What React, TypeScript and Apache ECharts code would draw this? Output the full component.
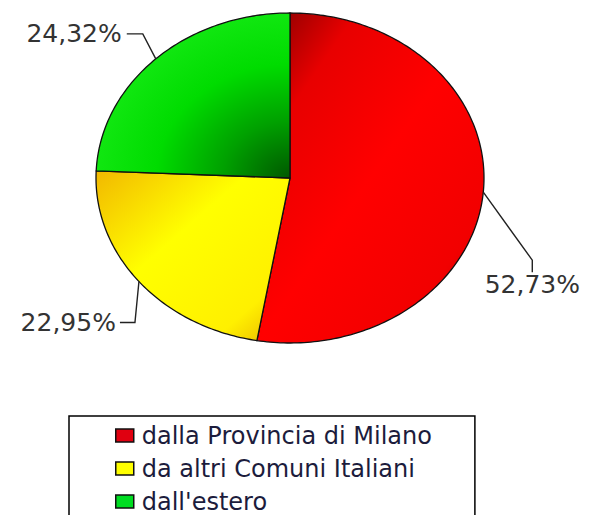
import React, { useEffect, useRef } from "react";
import * as echarts from "echarts";

const CATEGORIES = ["dalla Provincia di Milano", "da altri Comuni Italiani", "dall'estero"];
const VALUES = [52.73, 22.95, 24.32];

// layout / style (not data)
const CX = 290;
const CY = 178;
const RX = 194;
const RY = 165;
const LEGEND_COLORS = ["#e00010", "#ffff00", "#00dd22"];
const FILLS: any[] = [
  {
    type: "linear", x: 0, y: 0, x2: 1, y2: 1,
    colorStops: [
      { offset: 0, color: "#7a0000" },
      { offset: 0.22, color: "#e80000" },
      { offset: 0.5, color: "#ff0000" },
      { offset: 0.8, color: "#f20000" },
      { offset: 1, color: "#c00000" },
    ],
  },
  {
    type: "linear", x: 0, y: 0, x2: 1, y2: 1,
    colorStops: [
      { offset: 0, color: "#f2b800" },
      { offset: 0.4, color: "#ffff00" },
      { offset: 0.8, color: "#fff000" },
      { offset: 1, color: "#e8b000" },
    ],
  },
  {
    type: "radial", x: 1, y: 1, r: 1.15,
    colorStops: [
      { offset: 0, color: "#005800" },
      { offset: 0.3, color: "#00a000" },
      { offset: 0.6, color: "#00dc00" },
      { offset: 1, color: "#18ec18" },
    ],
  },
];
// leader-line layout relative to the slice's arc mid point
const LEADERS: any[] = [
  { pts: [[49, 68], [49, 80]], tx: 49, ty: 92, align: "center" },
  { pts: [[-4, 41], [-19, 41]], tx: -23, ty: 41, align: "right" },
  { pts: [[-13, -25], [-29, -25]], tx: -34, ty: -25, align: "right" },
];

function fmt(v: number) {
  return v.toFixed(2).replace(".", ",") + "%";
}

export default function App() {
  const ref = useRef<HTMLDivElement>(null);
  useEffect(() => {
    document.body.style.margin = "0";
    const chart = echarts.init(ref.current!, null, { renderer: "svg" });
    const total = VALUES.reduce((a, b) => a + b, 0);

    const renderItem = (params: any, api: any) => {
      const i = params.seriesIndex;
      const v = api.value(0);
      let before = 0;
      for (let k = 0; k < i; k++) before += VALUES[k];
      const a0 = (before / total) * 360;
      const a1 = a0 + (v / total) * 360;
      const pt = (deg: number) => {
        const r = (deg * Math.PI) / 180;
        return [CX + RX * Math.sin(r), CY - RY * Math.cos(r)];
      };
      const points: number[][] = [[CX, CY]];
      const steps = Math.max(2, Math.ceil(a1 - a0));
      for (let s = 0; s <= steps; s++) points.push(pt(a0 + ((a1 - a0) * s) / steps));
      const mid = pt((a0 + a1) / 2);
      const L = LEADERS[i];
      const linePts = [mid, ...L.pts.map((p: number[]) => [mid[0] + p[0], mid[1] + p[1]])];
      return {
        type: "group",
        children: [
          {
            type: "polygon",
            shape: { points },
            style: { fill: FILLS[i], stroke: "#111", lineWidth: 1.3, lineJoin: "round" },
          },
          {
            type: "polyline",
            shape: { points: linePts },
            style: { fill: null, stroke: "#222", lineWidth: 1.4 },
          },
          {
            type: "text",
            x: mid[0] + L.tx,
            y: mid[1] + L.ty,
            style: {
              text: fmt(v),
              fontFamily: "DejaVu Sans",
              fontSize: 25,
              fill: "#333",
              align: L.align,
              verticalAlign: "middle",
            },
          },
        ],
      };
    };

    chart.setOption({
      animation: false,
      backgroundColor: "#ffffff",
      legend: {
        orient: "vertical",
        left: 69,
        top: 416,
        height: 140,
        padding: [3, 43, 30, 46],
        itemGap: 0,
        itemWidth: 18,
        itemHeight: 13,
        icon: "rect",
        borderColor: "#000",
        borderWidth: 1.5,
        selectedMode: false,
        textStyle: {
          fontFamily: "DejaVu Sans",
          fontSize: 24,
          color: "#1c1c3c",
          lineHeight: 33,
          padding: [0, 0, 0, 3],
        },
        data: CATEGORIES.map((name, i) => ({
          name,
          itemStyle: { color: LEGEND_COLORS[i], borderColor: "#111", borderWidth: 1.5 },
        })),
      },
      series: CATEGORIES.map((name, i) => ({
        type: "custom",
        name,
        coordinateSystem: "none",
        itemStyle: { color: LEGEND_COLORS[i] },
        data: [{ name, value: [VALUES[i]] }],
        renderItem,
      })),
    });
    return () => chart.dispose();
  }, []);
  return <div ref={ref} style={{ width: 590, height: 515 }} />;
}
